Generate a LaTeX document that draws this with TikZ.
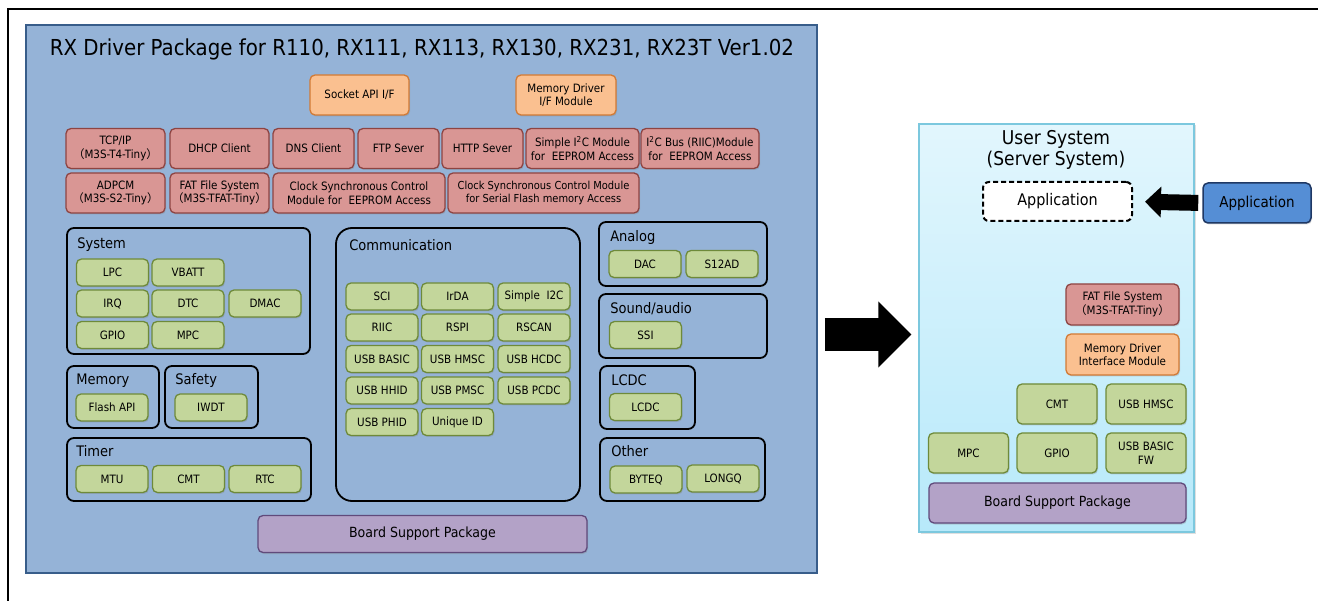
\documentclass[tikz,border=0pt]{standalone}
\usepackage{fontspec}
\setmainfont{DejaVu Sans Condensed}
\newfontfamily\cjkfont{Noto Sans CJK SC}
\usetikzlibrary{arrows.meta,shadows,calc}
\definecolor{pnlfill}{HTML}{95B3D7}
\definecolor{pnlline}{HTML}{385D8A}
\definecolor{grnfill}{HTML}{C3D69B}
\definecolor{grnline}{HTML}{6E8A3A}
\definecolor{redfill}{HTML}{D99694}
\definecolor{redline}{HTML}{8E4442}
\definecolor{orgfill}{HTML}{FAC090}
\definecolor{orgline}{HTML}{D27A35}
\definecolor{purfill}{HTML}{B3A2C7}
\definecolor{purline}{HTML}{604A7B}
\definecolor{appfill}{HTML}{558ED5}
\definecolor{appline}{HTML}{1F3864}
\definecolor{usrtop}{HTML}{E2F6FD}
\definecolor{usrbot}{HTML}{B7E9FA}
\definecolor{usrline}{HTML}{7CC8DE}
\newcommand{\fwl}{{\cjkfont （}}
\newcommand{\fwr}{{\cjkfont ）}}

\begin{document}
\begin{tikzpicture}[x=1pt,y=-1pt,
	bx/.style={rounded corners=5, line width=1.3, inner sep=1, align=center, font=\fontsize{11.5}{13.5}\selectfont, drop shadow={shadow xshift=1pt, shadow yshift=-1.5pt, opacity=0.3}},
	gmod/.style={bx, fill=grnfill, draw=grnline, minimum width=72, minimum height=27},
	rmod/.style={bx, fill=redfill, draw=redline, minimum height=40},
	omod/.style={bx, fill=orgfill, draw=orgline, minimum height=40},
	pmod/.style={bx, fill=purfill, draw=purline, font=\fontsize{14}{16}\selectfont},
	umod/.style={bx, fill=grnfill, draw=grnline, minimum width=80, minimum height=40},
	grp/.style={draw, line width=1.8, rounded corners=7, inner sep=0},
	grplbl/.style={anchor=base west, inner sep=0, font=\fontsize{14.5}{16}\selectfont},
	bigarr/.style={line width=33, -{Triangle[length=33pt,width=64pt]}},
	apparr/.style={line width=16, -{Triangle[length=16pt,width=30pt]}}]
	\useasboundingbox (0,0) rectangle (1318,601);
	\draw[line width=2] (8,601) -- (8,9) -- (1318,9);
	\node[draw=pnlline, fill=pnlfill, line width=1.5, minimum width=791, minimum height=548, inner sep=0] (drv) at (421.5,299) {};
	\node[font=\fontsize{22}{26}\selectfont] (title) at (422,49) {RX Driver Package for R110, RX111, RX113, RX130, RX231, RX23T Ver1.02};
	\node[omod, minimum width=99] (sock) at (359.5,95) {Socket API I/F};
	\node[omod, minimum width=100] (memdrv) at (566,95) {Memory Driver\\I/F Module};
	\node[rmod, minimum width=99] (tcp) at (115.5,148.5) {TCP/IP\\\fwl M3S-T4-Tiny\fwr};
	\node[rmod, minimum width=99] (dhcp) at (219.5,148.5) {DHCP Client};
	\node[rmod, minimum width=81] (dns) at (313.5,148.5) {DNS Client};
	\node[rmod, minimum width=81] (ftp) at (398.5,148.5) {FTP Sever};
	\node[rmod, minimum width=81] (http) at (482.5,148.5) {HTTP Sever};
	\node[rmod, minimum width=113] (si2c) at (582.5,148.5) {Simple I\textsuperscript{2}C Module\\for\ \ EEPROM Access};
	\node[rmod, minimum width=118] (riic) at (700,148.5) {I\textsuperscript{2}C Bus (RIIC)Module\\for\ \ EEPROM Access};
	\node[rmod, minimum width=99] (adpcm) at (115.5,193) {ADPCM\\\fwl M3S-S2-Tiny\fwr};
	\node[rmod, minimum width=99] (fat) at (219.5,193) {FAT File System\\\fwl M3S-TFAT-Tiny\fwr};
	\node[rmod, minimum width=172] (clkee) at (359,193) {Clock Synchronous Control\\Module for\ \ EEPROM Access};
	\node[rmod, minimum width=191, font=\fontsize{11}{13.5}\selectfont] (clksf) at (543.5,193) {Clock Synchronous Control Module\\for Serial Flash memory Access};
	\node[grp, minimum width=243, minimum height=126] (sys) at (188.5,291) {};
	\node[grplbl] (syslbl) at ($(sys.north west)+(11,21)$) {System};
	\node[gmod] (lpc) at (112.5,272.5) {LPC};
	\node[gmod] (vbatt) at (188,272.5) {VBATT};
	\node[gmod] (irq) at (112.5,303.5) {IRQ};
	\node[gmod] (dtc) at (188,303.5) {DTC};
	\node[gmod] (dmac) at (265,303.5) {DMAC};
	\node[gmod] (gpio) at (112.5,335) {GPIO};
	\node[gmod] (mpc) at (188,335) {MPC};
	\node[grp, minimum width=92, minimum height=62] (mem) at (113,397) {};
	\node[grplbl] (memlbl) at ($(mem.north west)+(10,19)$) {Memory};
	\node[gmod] (flash) at (112,407.5) {Flash API};
	\node[grp, minimum width=93, minimum height=62] (safe) at (211.5,397) {};
	\node[grplbl] (safelbl) at ($(safe.north west)+(11,19)$) {Safety};
	\node[gmod] (iwdt) at (211,407.5) {IWDT};
	\node[grp, minimum width=244, minimum height=63] (tmr) at (189,469.5) {};
	\node[grplbl] (tmrlbl) at ($(tmr.north west)+(10,19)$) {Timer};
	\node[gmod] (mtu) at (112,479) {MTU};
	\node[gmod] (cmt) at (188.5,479) {CMT};
	\node[gmod] (rtc) at (265,479) {RTC};
	\node[grp, rounded corners=16, minimum width=244, minimum height=273] (comm) at (458,364.5) {};
	\node[grplbl] (commlbl) at ($(comm.north west)+(14,23)$) {Communication};
	\node[gmod] (sci) at (382,296.5) {SCI};
	\node[gmod] (irda) at (457.5,296.5) {IrDA};
	\node[gmod] (simi2c) at (534,296.5) {Simple\ \ I2C};
	\node[gmod] (riicd) at (382,327.5) {RIIC};
	\node[gmod] (rspi) at (457.5,327.5) {RSPI};
	\node[gmod] (rscan) at (534,327.5) {RSCAN};
	\node[gmod] (usbb) at (382,359) {USB BASIC};
	\node[gmod] (hmsc) at (457.5,359) {USB HMSC};
	\node[gmod] (hcdc) at (534,359) {USB HCDC};
	\node[gmod] (hhid) at (382,390.5) {USB HHID};
	\node[gmod] (pmsc) at (457.5,390.5) {USB PMSC};
	\node[gmod] (pcdc) at (534,390.5) {USB PCDC};
	\node[gmod] (phid) at (382,422) {USB PHID};
	\node[gmod] (uid) at (457.5,422) {Unique ID};
	\node[grp, minimum width=168, minimum height=64] (ana) at (683,254) {};
	\node[grplbl] (analbl) at ($(ana.north west)+(12,20)$) {Analog};
	\node[gmod] (dac) at (645,264) {DAC};
	\node[gmod] (s12ad) at (722,264) {S12AD};
	\node[grp, minimum width=168, minimum height=64] (snd) at (683,326) {};
	\node[grplbl] (sndlbl) at ($(snd.north west)+(12,20)$) {Sound/audio};
	\node[gmod] (ssi) at (645.5,335) {SSI};
	\node[grp, minimum width=95, minimum height=63] (lcd) at (647.5,397.5) {};
	\node[grplbl] (lcdlbl) at ($(lcd.north west)+(12,20)$) {LCDC};
	\node[gmod] (lcdc) at (645.5,407) {LCDC};
	\node[grp, minimum width=165, minimum height=63] (oth) at (682.5,469.5) {};
	\node[grplbl] (othlbl) at ($(oth.north west)+(12,19)$) {Other};
	\node[gmod] (byteq) at (646,479.5) {BYTEQ};
	\node[gmod] (longq) at (723,478.5) {LONGQ};
	\node[pmod, minimum width=329, minimum height=37] (bsp) at (422.5,534) {Board Support Package};
	\node[draw=usrline, top color=usrtop, bottom color=usrbot, line width=1.3, minimum width=275, minimum height=408, inner sep=0, drop shadow={shadow xshift=1.5pt, shadow yshift=-1.5pt, opacity=0.25}] (usr) at (1056.5,328) {};
	\node[align=center, font=\fontsize{19}{21}\selectfont] (usrlbl) at (1056,150) {User System\\(Server System)};
	\node[draw, dashed, dash pattern=on 5pt off 3pt, line width=2, rounded corners=6, fill=white, minimum width=149, minimum height=39, font=\fontsize{16}{18}\selectfont] (dapp) at (1057.5,201.5) {Application};
	\node[bx, fill=appfill, draw=appline, line width=1.5, minimum width=108, minimum height=40, font=\fontsize{15}{17}\selectfont] (uapp) at (1257,203) {Application};
	\node[rmod, minimum width=113, minimum height=41] (ufat) at (1122.5,304.5) {FAT File System\\\fwl M3S-TFAT-Tiny\fwr};
	\node[omod, minimum width=113, minimum height=41] (umem) at (1122.5,354.5) {Memory Driver\\Interface Module};
	\node[umod] (ucmt) at (1057,404) {CMT};
	\node[umod] (uhmsc) at (1146,404) {USB HMSC};
	\node[umod] (umpc) at (968.5,453) {MPC};
	\node[umod] (ugpio) at (1057,453) {GPIO};
	\node[umod] (uusb) at (1146,453) {USB BASIC\\FW};
	\node[pmod, minimum width=257, minimum height=40] (ubsp) at (1057.5,503) {Board Support Package};
	\draw[bigarr, shorten <=7pt, shorten >=7pt] ([yshift=-35.5pt]drv.east) -- ([yshift=-6.5pt]usr.west);
	\draw[apparr, shorten <=4pt, shorten >=12pt] (uapp.west) -- (dapp.east);
\end{tikzpicture}
\end{document}
